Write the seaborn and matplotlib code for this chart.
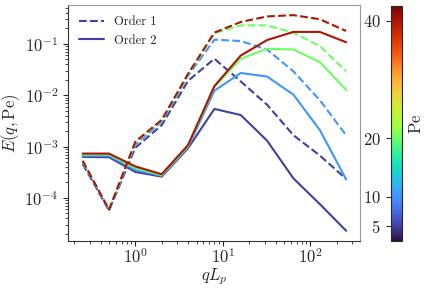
import numpy as np
import pandas as pd
import matplotlib
matplotlib.use("Agg")
import matplotlib.pyplot as plt
import seaborn as sns
from matplotlib.lines import Line2D

# wave numbers q*L_p
q = [0.25, 0.5, 1, 2, 4, 8, 16, 32, 64, 128, 256]
pe_values = [5, 10, 20, 40]

# order 1 (dashed)
order1_pe5 = [4.6e-4, 5.7e-5, 9.5e-4, 2.6e-3, 1.9e-2, 0.051, 0.0185, 6.5e-3, 1.66e-3, 6.7e-4, 2.35e-4]
order1_pe10 = [5.0e-4, 5.8e-5, 1.1e-3, 3.0e-3, 2.4e-2, 0.12, 0.113, 0.077, 0.029, 8.0e-3, 1.66e-3]
order1_pe20 = [5.2e-4, 5.9e-5, 1.2e-3, 3.2e-3, 2.5e-2, 0.16, 0.228, 0.228, 0.164, 0.09, 0.029]
order1_pe40 = [5.3e-4, 5.9e-5, 1.25e-3, 3.3e-3, 2.6e-2, 0.165, 0.265, 0.34, 0.36, 0.30, 0.177]

# order 2 (solid)
order2_pe5 = [6.3e-4, 6.2e-4, 3.2e-4, 2.6e-4, 9.3e-4, 5.4e-3, 4.1e-3, 1.3e-3, 2.4e-4, 7.6e-5, 2.3e-5]
order2_pe10 = [6.6e-4, 6.6e-4, 3.5e-4, 2.7e-4, 9.8e-4, 0.0122, 0.027, 0.023, 0.0102, 2.1e-3, 2.3e-4]
order2_pe20 = [7.0e-4, 7.0e-4, 3.8e-4, 2.8e-4, 1.03e-3, 0.0145, 0.051, 0.080, 0.077, 0.044, 0.0127]
order2_pe40 = [7.3e-4, 7.3e-4, 4.1e-4, 2.9e-4, 1.07e-3, 0.015, 0.059, 0.118, 0.17, 0.17, 0.107]

order1 = [order1_pe5, order1_pe10, order1_pe20, order1_pe40]
order2 = [order2_pe5, order2_pe10, order2_pe20, order2_pe40]

sns.set_style("ticks")
plt.rcParams["font.family"] = ["cmr10"]
plt.rcParams["mathtext.fontset"] = "cm"
plt.rcParams["axes.formatter.use_mathtext"] = True

cmap = plt.get_cmap("turbo")
norm = matplotlib.colors.Normalize(vmin=2.5, vmax=42.5)

fig = plt.figure(figsize=(4.36, 2.88), dpi=100)
ax = fig.add_axes([0.156, 0.163, 0.670, 0.820])
cax = fig.add_axes([0.896, 0.163, 0.027, 0.816])

for pe, y1, y2 in zip(pe_values, order1, order2):
    col = cmap(norm(pe))
    sns.lineplot(x=q, y=y1, ax=ax, color=col, linestyle="--", lw=1.5)
    sns.lineplot(x=q, y=y2, ax=ax, color=col, linestyle="-", lw=1.5)

ax.set_xscale("log")
ax.set_yscale("log")
ax.set_xlim(0.17, 370)
ax.set_ylim(1.45e-5, 0.57)
ax.set_xlabel(r"$qL_p$", fontsize=12, labelpad=0)
ax.set_ylabel(r"$E(q,\mathrm{Pe})$", fontsize=12, labelpad=2)
ax.tick_params(axis="both", which="major", labelsize=12)
ax.tick_params(axis="x", which="major", pad=1)

for side in ["top", "right"]:
    ax.spines[side].set_color("#999999")
for side in ["left", "bottom"]:
    ax.spines[side].set_color("#333333")

# legend with dark-blue handles
c0 = cmap(norm(pe_values[0]))
handles = [Line2D([], [], color=c0, ls="--", lw=1.5),
           Line2D([], [], color=c0, ls="-", lw=1.5)]
ax.legend(handles, ["Order 1", "Order 2"], loc="upper left", frameon=False, fontsize=9)

sm = matplotlib.cm.ScalarMappable(norm=norm, cmap=cmap)
cb = fig.colorbar(sm, cax=cax, ticks=[5, 10, 20, 40])
cb.set_label(r"$\mathrm{Pe}$", fontsize=12)
cax.tick_params(labelsize=12)
cax.yaxis.set_ticks_position("left")
cax.yaxis.set_label_position("right")

fig.savefig("out.png", dpi=100)
